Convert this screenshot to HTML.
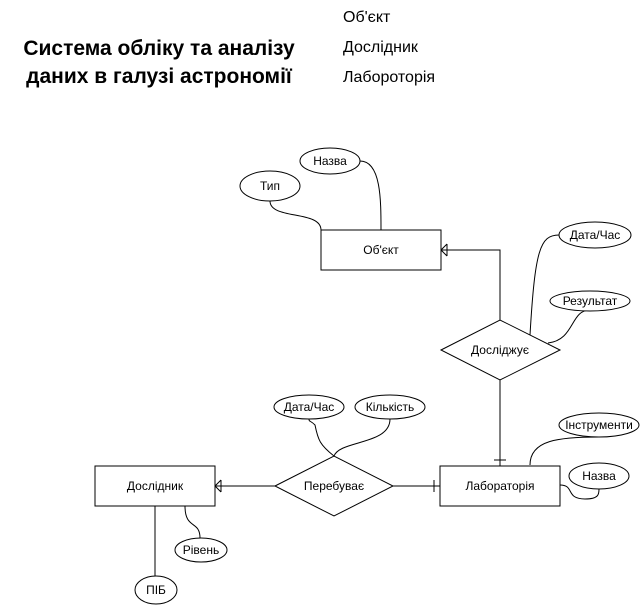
<!DOCTYPE html>
<html><head><meta charset="utf-8"><style>
html,body{margin:0;padding:0;background:#fff;}
svg{display:block;font-family:"Liberation Sans",sans-serif;}
</style></head><body>
<svg width="641" height="606" viewBox="0 0 641 606" xmlns="http://www.w3.org/2000/svg">
<g font-size="21" font-weight="bold" text-anchor="middle" fill="#000">
<text x="159" y="55">Система обліку та аналізу</text>
<text x="159" y="83">даних в галузі астрономії</text>
</g>
<g font-size="16" fill="#000">
<text x="343" y="22">Об'єкт</text>
<text x="343" y="52">Дослідник</text>
<text x="343" y="82">Лабороторія</text>
</g>
<g fill="none" stroke="#000" stroke-width="1">
<path d="M270 201 C270 220,321 210,321 230"/>
<path d="M360 161 C381 161,381 200,381 230"/>
<path d="M500 320 L500 250 L441 250"/>
<path d="M447 244 L441 250 L447 256 M447 244 L447 256"/>
<path d="M530 335 C535 250,540 235,559 235"/>
<path d="M548 343 C575 340,570 310,590 310"/>
<path d="M500 380 L500 466"/>
<path d="M494 460 L506 460"/>
<path d="M215 486 L275 486"/>
<path d="M221 480 L215 486 L221 492 M221 480 L221 492"/>
<path d="M393 486 L440 486"/>
<path d="M434 480 L434 492"/>
<path d="M334 456 C320 445,318 440,315 425 C310 420,309 422,309 419"/>
<path d="M334 456 C340 440,390 445,390 419"/>
<path d="M530 465 C530 440,559 437,599 437"/>
<path d="M560 485 C575 485,565 499,585 499 C599 499,599 494,599 489"/>
<path d="M155 506 L155 576"/>
<path d="M185 506 C185 530,200 520,200 538"/>
</g>
<g fill="#fff" stroke="#000" stroke-width="1">
<rect x="321" y="230" width="120" height="40"/>
<rect x="95" y="466" width="120" height="40"/>
<rect x="440" y="466" width="120" height="40"/>
<polygon points="441,350 500,320 560,350 500,380"/>
<polygon points="275,486 334,456 393,486 334,516"/>
<ellipse cx="330" cy="161" rx="30" ry="13"/>
<ellipse cx="270" cy="186" rx="30" ry="15"/>
<ellipse cx="595" cy="235" rx="36" ry="13"/>
<ellipse cx="590" cy="301" rx="40" ry="10"/>
<ellipse cx="309" cy="407" rx="35" ry="12"/>
<ellipse cx="390" cy="407" rx="35" ry="12"/>
<ellipse cx="599" cy="425" rx="40" ry="12"/>
<ellipse cx="599" cy="476" rx="30" ry="13"/>
<ellipse cx="201" cy="550" rx="26" ry="12"/>
<ellipse cx="156" cy="590" rx="21" ry="14"/>
</g>
<g font-size="12" text-anchor="middle" fill="#000">
<text x="381" y="254">Об'єкт</text>
<text x="155" y="490">Дослідник</text>
<text x="500" y="490">Лабораторія</text>
<text x="500" y="354">Досліджує</text>
<text x="334" y="490">Перебуває</text>
<text x="330" y="165">Назва</text>
<text x="270" y="190">Тип</text>
<text x="595" y="239">Дата/Час</text>
<text x="590" y="305">Результат</text>
<text x="309" y="411">Дата/Час</text>
<text x="390" y="411">Кількість</text>
<text x="599" y="429">Інструменти</text>
<text x="599" y="480">Назва</text>
<text x="201" y="554">Рівень</text>
<text x="156" y="594">ПІБ</text>
</g>
</svg>
</body></html>
